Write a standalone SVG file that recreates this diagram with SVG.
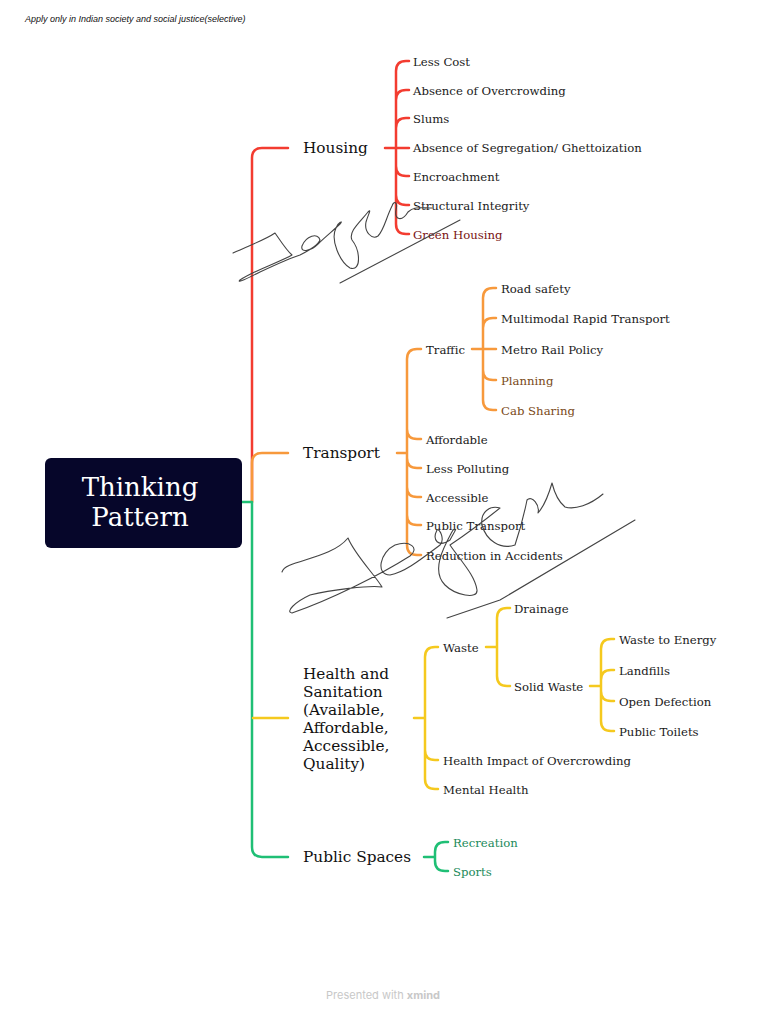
<svg xmlns="http://www.w3.org/2000/svg" width="768" height="1024" viewBox="0 0 768 1024">
<style>
.t{font-family:"DejaVu Serif","Liberation Serif",serif;font-size:11.7px;fill:#1a1a1a;dominant-baseline:central}
.m{font-family:"DejaVu Serif","Liberation Serif",serif;font-size:15.3px;fill:#111;dominant-baseline:central}
.c{fill:none;stroke-width:2.5;stroke-linecap:round;stroke-linejoin:round}
.r{stroke:#f33c30}.o{stroke:#f7993c}.y{stroke:#f5c91e}.g{stroke:#1fbf75}
.sig{fill:none;stroke:#444;stroke-width:1.1;stroke-linecap:round;stroke-linejoin:round}
</style>
<rect width="768" height="1024" fill="#fff"/>
<text x="25" y="19" font-family="Liberation Sans,Arial,sans-serif" font-size="9" font-style="italic" fill="#111" dominant-baseline="central">Apply only in Indian society and social justice(selective)</text>

<g id="connectors">
  <path class="c r" d="M252,502 V158 Q252,148 262,148 H288"/>
  <path class="c o" d="M252,502 V463 Q252,453 262,453 H288"/>
  <path class="c g" d="M242,502 H252 V847 Q252,857 262,857 H288"/>
  <path class="c y" d="M253,718 H288"/>
  <path class="c r" d="M385,148 H409 M396,148 V71 Q396,61 406,61 H409 M396,100 Q396,90 406,90 H409 M396,128 Q396,118 406,118 H409 M396,148 V224 Q396,234 406,234 H409 M396,166 Q396,176 406,176 H409 M396,195 Q396,205 406,205 H409"/>
  <path class="c o" d="M397,453 H407 M407,545 V359 Q407,349 417,349 H421 M407,429 Q407,439 417,439 H421 M407,458 Q407,468 417,468 H421 M407,487 Q407,497 417,497 H421 M407,515 Q407,525 417,525 H421 M407,545 Q407,555 417,555 H421"/>
  <path class="c o" d="M472,349 H496 M483,298 Q483,288 493,288 H496 M483,298 V400 Q483,410 493,410 H496 M483,328 Q483,318 493,318 H496 M483,370 Q483,380 493,380 H496"/>
  <path class="c y" d="M414,718 H425 M425,657 Q425,647 435,647 H438 M425,657 V779 Q425,789 435,789 H438 M425,750 Q425,760 435,760 H438"/>
  <path class="c y" d="M486,647 H497 M497,618 Q497,608 507,608 H510 M497,618 V676 Q497,686 507,686 H510"/>
  <path class="c y" d="M590,686 H601 M601,649 Q601,639 611,639 H614 M601,649 V721 Q601,731 611,731 H614 M601,680 Q601,670 611,670 H614 M601,691 Q601,701 611,701 H614"/>
  <path class="c g" d="M424,857 H435 M435,852 Q435,842 445,842 H448 M435,852 V861 Q435,871 445,871 H448"/>
</g>

<g id="central">
  <rect x="45" y="458" width="197" height="90" rx="6" fill="#06062a"/>
  <text x="140" y="487" font-family="DejaVu Serif,Liberation Serif,serif" font-size="26" fill="#fff" text-anchor="middle" dominant-baseline="central">Thinking</text>
  <text x="140" y="517" font-family="DejaVu Serif,Liberation Serif,serif" font-size="26" fill="#fff" text-anchor="middle" dominant-baseline="central">Pattern</text>
</g>

<g id="housing">
  <text class="m" x="303" y="148">Housing</text>
  <g id="housing-children">
    <text class="t" x="413" y="62">Less Cost</text>
    <text class="t" x="413" y="91">Absence of Overcrowding</text>
    <text class="t" x="413" y="119">Slums</text>
    <text class="t" x="413" y="148">Absence of Segregation/ Ghettoization</text>
    <text class="t" x="413" y="177">Encroachment</text>
    <text class="t" x="413" y="206">Structural Integrity</text>
    <text class="t" x="413" y="235" style="fill:#7a1212">Green Housing</text>
  </g>
</g>

<g id="transport">
  <text class="m" x="303" y="453">Transport</text>
  <g id="traffic">
    <text class="t" x="426" y="350">Traffic</text>
    <text class="t" x="501" y="289">Road safety</text>
    <text class="t" x="501" y="319">Multimodal Rapid Transport</text>
    <text class="t" x="501" y="350">Metro Rail Policy</text>
    <text class="t" x="501" y="381" style="fill:#7a4a18">Planning</text>
    <text class="t" x="501" y="411" style="fill:#7a4a18">Cab Sharing</text>
  </g>
  <text class="t" x="426" y="440">Affordable</text>
  <text class="t" x="426" y="469">Less Polluting</text>
  <text class="t" x="426" y="498">Accessible</text>
  <text class="t" x="426" y="526">Public Transport</text>
  <text class="t" x="426" y="556">Reduction in Accidents</text>
</g>

<g id="health">
  <text class="m" x="303" y="674">Health and</text>
  <text class="m" x="303" y="692">Sanitation</text>
  <text class="m" x="303" y="710">(Available,</text>
  <text class="m" x="303" y="728">Affordable,</text>
  <text class="m" x="303" y="746">Accessible,</text>
  <text class="m" x="303" y="764">Quality)</text>
  <g id="waste">
    <text class="t" x="443" y="648">Waste</text>
    <text class="t" x="514" y="609">Drainage</text>
    <g id="solid-waste">
      <text class="t" x="514" y="687">Solid Waste</text>
      <text class="t" x="619" y="640">Waste to Energy</text>
      <text class="t" x="619" y="671">Landfills</text>
      <text class="t" x="619" y="702">Open Defection</text>
      <text class="t" x="619" y="732">Public Toilets</text>
    </g>
  </g>
  <text class="t" x="443" y="761">Health Impact of Overcrowding</text>
  <text class="t" x="443" y="790">Mental Health</text>
</g>

<g id="public-spaces">
  <text class="m" x="303" y="857">Public Spaces</text>
  <text class="t" x="453" y="843" style="fill:#1b8a5a">Recreation</text>
  <text class="t" x="453" y="872" style="fill:#1b8a5a">Sports</text>
</g>

<g id="signatures">
  <path class="sig" d="M340,283 L460,220"/>
  <path class="sig" d="M233,253 C250,245 265,240 275,233 C280,240 286,250 292,255 C280,262 255,270 240,280 C236,284 248,278 260,272 C275,265 290,258 300,255 C310,250 318,245 320,240 C318,232 306,236 302,246 C300,254 312,250 318,244 C326,236 334,230 340,224 C344,220 338,222 336,228 C330,240 340,262 350,268 C362,272 360,250 352,240 C348,232 360,222 368,212 C372,208 368,215 366,222 C364,232 372,240 378,236 C384,230 386,218 392,206 C394,200 398,202 396,210 C394,220 402,222 408,212 C414,206 422,208 432,208"/>
  <path class="sig" d="M447,618 L500,600 L635,520"/>
  <path class="sig" d="M282,572 C285,560 330,560 348,538 C355,555 375,575 382,587 C370,585 330,590 310,595 C295,602 285,612 292,613 C330,600 380,575 410,556 C420,548 410,540 395,545 C380,552 375,575 390,575 C405,572 420,560 440,545 C445,540 440,528 437,530 C432,540 438,548 450,540 C455,530 458,528 453,530 C445,545 430,570 445,585 C455,595 478,600 477,590 C475,575 460,560 450,545 C465,535 485,520 500,508 C490,505 480,512 482,525 C486,540 500,550 515,545 C520,530 525,510 527,500 C532,495 540,505 538,513 C545,505 550,490 552,483 C555,495 560,503 565,507 C575,510 590,505 603,494"/>
</g>

<text x="383" y="995" font-family="Inter,Liberation Sans,sans-serif" font-size="11" fill="#c8c8c8" text-anchor="middle" dominant-baseline="central">Presented with <tspan font-weight="bold">xmind</tspan></text>
</svg>
